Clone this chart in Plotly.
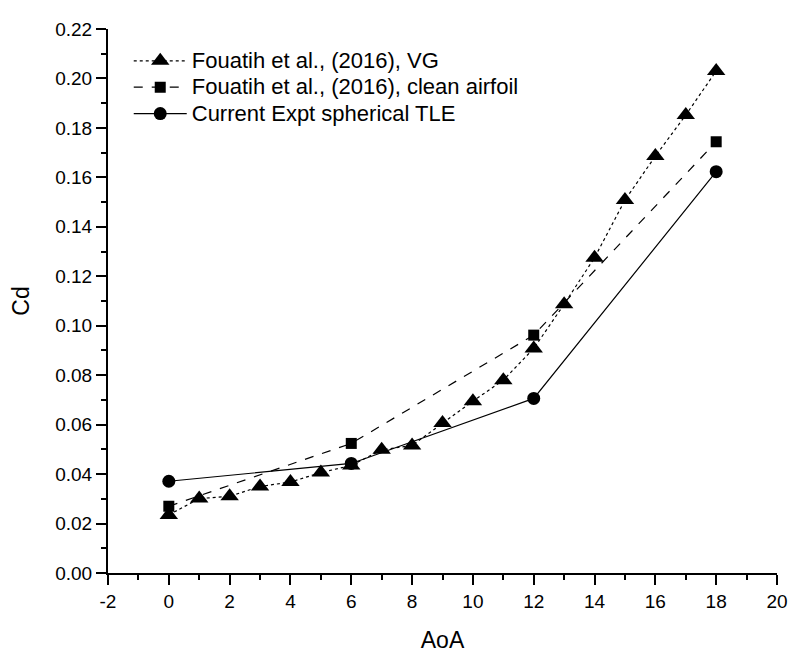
import plotly.graph_objects as go

# Data
aoa_vg = [0, 1, 2, 3, 4, 5, 6, 7, 8, 9, 10, 11, 12, 13, 14, 15, 16, 17, 18]
cd_vg = [0.0235, 0.0301, 0.0310, 0.0350, 0.0368, 0.0406, 0.0435, 0.0498, 0.0516,
         0.0607, 0.0695, 0.0780, 0.0908, 0.1087, 0.1275, 0.1508, 0.1686, 0.1852, 0.2030]

aoa_clean = [0, 6, 12, 18]
cd_clean = [0.0270, 0.0524, 0.0962, 0.1744]

aoa_tle = [0, 6, 12, 18]
cd_tle = [0.0371, 0.0443, 0.0706, 0.1623]

names = ["Fouatih et al., (2016), VG",
         "Fouatih et al., (2016), clean airfoil",
         "Current Expt spherical TLE"]

x_tick_vals = [-2, 0, 2, 4, 6, 8, 10, 12, 14, 16, 18, 20]
x_tick_text = ["-2", "0", "2", "4", "6", "8", "10", "12", "14", "16", "18", "20"]

FONT = "Arial, 'Liberation Sans', sans-serif"


def legend_label(s):
    return '<span style="font-size:22px">' + s + '</span>'


fig = go.Figure()
fig.add_trace(go.Scatter(x=aoa_vg, y=cd_vg, name=legend_label(names[0]), mode="lines+markers",
                         line=dict(color="black", width=1.2, dash="dot"),
                         marker=dict(symbol="triangle-up", size=16, color="black")))
fig.add_trace(go.Scatter(x=aoa_clean, y=cd_clean, name=legend_label(names[1]), mode="lines+markers",
                         line=dict(color="black", width=1.2, dash="dash"),
                         marker=dict(symbol="square", size=11, color="black")))
fig.add_trace(go.Scatter(x=aoa_tle, y=cd_tle, name=legend_label(names[2]), mode="lines+markers",
                         line=dict(color="black", width=1.2),
                         marker=dict(symbol="circle", size=13, color="black")))

axis_common = dict(showline=True, linecolor="black", linewidth=2, showgrid=False,
                   zeroline=False, ticks="outside", ticklen=10, tickwidth=1.5,
                   tickcolor="black", tickfont=dict(family=FONT, size=19, color="black"),
                   mirror=False, automargin=False)

fig.update_xaxes(range=[-2, 20], tickvals=x_tick_vals, ticktext=x_tick_text,
                 minor=dict(ticks="outside", ticklen=5, tickwidth=1.5, tickcolor="black", dtick=1),
                 title=dict(text="AoA", font=dict(family=FONT, size=23, color="black"), standoff=21),
                 **axis_common)
fig.update_yaxes(range=[0, 0.22], dtick=0.02, tick0=0, tickformat=".2f",
                 minor=dict(ticks="outside", ticklen=5, tickwidth=1.5, tickcolor="black", dtick=0.01),
                 title=dict(text="Cd", font=dict(family=FONT, size=23, color="black"), standoff=20),
                 **axis_common)

fig.update_layout(
    width=792, height=650,
    margin=dict(l=100, r=23, t=21, b=85),
    paper_bgcolor="white", plot_bgcolor="white",
    showlegend=True,
    legend=dict(x=0.031, y=0.975, xanchor="left", yanchor="top",
                font=dict(family=FONT, size=18, color="black"),
                bgcolor="rgba(0,0,0,0)", tracegroupgap=0, itemwidth=53),
)

fig.write_html("out.html")
